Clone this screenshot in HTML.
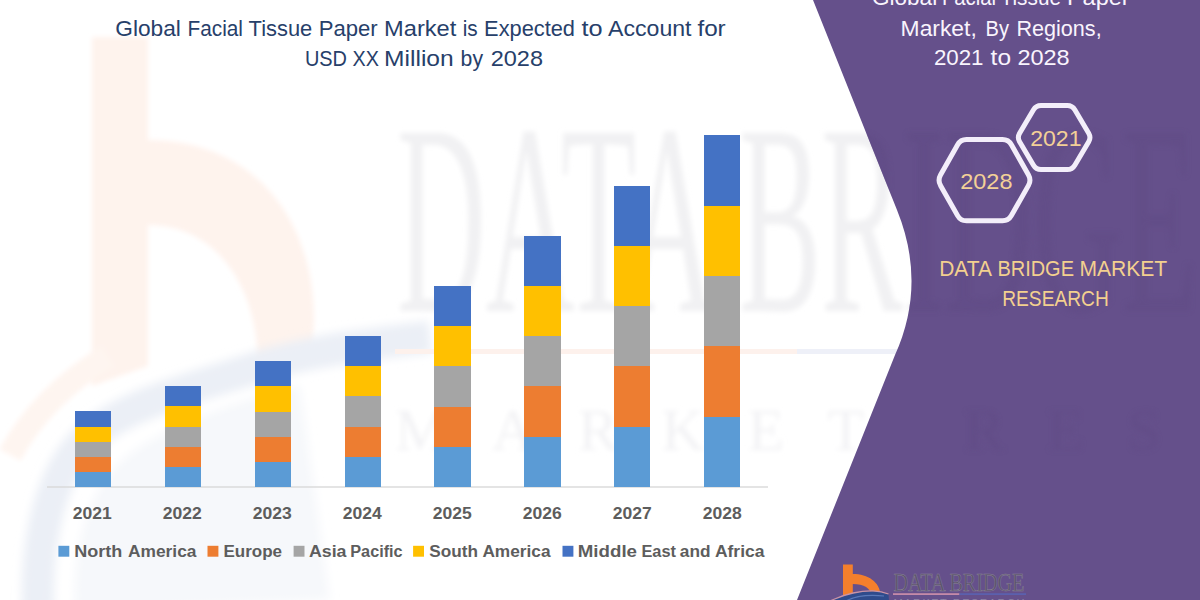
<!DOCTYPE html>
<html><head><meta charset="utf-8">
<style>
html,body{margin:0;padding:0;background:#fff;}
body{width:1200px;height:600px;overflow:hidden;font-family:"Liberation Sans",sans-serif;}
svg{display:block;font-family:"Liberation Sans",sans-serif;}
</style></head><body>
<svg width="1200" height="600" viewBox="0 0 1200 600">
<defs>
<filter id="b6" x="-20%" y="-20%" width="140%" height="140%"><feGaussianBlur stdDeviation="5"/></filter>
<filter id="b3" x="-20%" y="-20%" width="140%" height="140%"><feGaussianBlur stdDeviation="2.5"/></filter>
<filter id="b1" x="-20%" y="-20%" width="140%" height="140%"><feGaussianBlur stdDeviation="0.6"/></filter>
</defs>
<rect width="1200" height="600" fill="#ffffff"/>
<!-- watermark -->
<g id="wm">
<g filter="url(#b3)" fill="#fef3ed">
<path d="M92,37 H148 V140 C 250,140 314,215 314,320 L 312,352 L 258,366 C 258,285 215,225 148,225 V366 L92,386 Z"/>
<path d="M10,455 C 30,418 60,385 108,356" fill="none" stroke="#fef5f0" stroke-width="24"/>
</g>
<g filter="url(#b6)" fill="none">
<path d="M38,610 C 36,540 50,470 90,436 C 130,402 200,386 255,368 C 310,351 360,345 430,337" stroke="#ebeff6" stroke-width="32"/>
<path d="M75,610 C 72,540 90,480 135,450 C 180,420 240,400 300,385 L 330,600 Z" fill="#f6f8fb" stroke="none"/>
</g>
<g filter="url(#b3)" fill="#f1f1f3" font-family="Liberation Serif, serif" font-size="272">
<text x="397" y="311" textLength="800" lengthAdjust="spacingAndGlyphs">DATA BRIDGE</text>
</g>
<g filter="url(#b3)" fill="#f3f3f5" font-family="Liberation Serif, serif" font-size="60">
<text x="395" y="450" textLength="1185" lengthAdjust="spacing">MARKET RESEARCH</text>
</g>
<rect x="395" y="349" width="402" height="5" fill="#fdf1ec" filter="url(#b1)"/>
<rect x="797" y="349" width="120" height="5" fill="#eef0f8" filter="url(#b1)"/>
</g>
<!-- axis -->
<rect x="47" y="486.3" width="721" height="1.4" fill="#d9d9d9"/>
<!-- bars -->
<g shape-rendering="crispEdges">
<rect x="75.00" y="471.46" width="36.3" height="15.34" fill="#5b9bd5"/>
<rect x="75.00" y="456.42" width="36.3" height="15.34" fill="#ed7d31"/>
<rect x="75.00" y="441.38" width="36.3" height="15.34" fill="#a5a5a5"/>
<rect x="75.00" y="426.34" width="36.3" height="15.34" fill="#ffc000"/>
<rect x="75.00" y="411.30" width="36.3" height="15.34" fill="#4472c4"/>
<rect x="164.85" y="466.42" width="36.3" height="20.38" fill="#5b9bd5"/>
<rect x="164.85" y="446.34" width="36.3" height="20.38" fill="#ed7d31"/>
<rect x="164.85" y="426.26" width="36.3" height="20.38" fill="#a5a5a5"/>
<rect x="164.85" y="406.18" width="36.3" height="20.38" fill="#ffc000"/>
<rect x="164.85" y="386.10" width="36.3" height="20.38" fill="#4472c4"/>
<rect x="254.70" y="461.40" width="36.3" height="25.40" fill="#5b9bd5"/>
<rect x="254.70" y="436.30" width="36.3" height="25.40" fill="#ed7d31"/>
<rect x="254.70" y="411.20" width="36.3" height="25.40" fill="#a5a5a5"/>
<rect x="254.70" y="386.10" width="36.3" height="25.40" fill="#ffc000"/>
<rect x="254.70" y="361.00" width="36.3" height="25.40" fill="#4472c4"/>
<rect x="344.55" y="456.38" width="36.3" height="30.42" fill="#5b9bd5"/>
<rect x="344.55" y="426.26" width="36.3" height="30.42" fill="#ed7d31"/>
<rect x="344.55" y="396.14" width="36.3" height="30.42" fill="#a5a5a5"/>
<rect x="344.55" y="366.02" width="36.3" height="30.42" fill="#ffc000"/>
<rect x="344.55" y="335.90" width="36.3" height="30.42" fill="#4472c4"/>
<rect x="434.40" y="446.38" width="36.3" height="40.42" fill="#5b9bd5"/>
<rect x="434.40" y="406.26" width="36.3" height="40.42" fill="#ed7d31"/>
<rect x="434.40" y="366.14" width="36.3" height="40.42" fill="#a5a5a5"/>
<rect x="434.40" y="326.02" width="36.3" height="40.42" fill="#ffc000"/>
<rect x="434.40" y="285.90" width="36.3" height="40.42" fill="#4472c4"/>
<rect x="524.25" y="436.32" width="36.3" height="50.48" fill="#5b9bd5"/>
<rect x="524.25" y="386.14" width="36.3" height="50.48" fill="#ed7d31"/>
<rect x="524.25" y="335.96" width="36.3" height="50.48" fill="#a5a5a5"/>
<rect x="524.25" y="285.78" width="36.3" height="50.48" fill="#ffc000"/>
<rect x="524.25" y="235.60" width="36.3" height="50.48" fill="#4472c4"/>
<rect x="614.10" y="426.32" width="36.3" height="60.48" fill="#5b9bd5"/>
<rect x="614.10" y="366.14" width="36.3" height="60.48" fill="#ed7d31"/>
<rect x="614.10" y="305.96" width="36.3" height="60.48" fill="#a5a5a5"/>
<rect x="614.10" y="245.78" width="36.3" height="60.48" fill="#ffc000"/>
<rect x="614.10" y="185.60" width="36.3" height="60.48" fill="#4472c4"/>
<rect x="703.95" y="416.20" width="36.3" height="70.60" fill="#5b9bd5"/>
<rect x="703.95" y="345.90" width="36.3" height="70.60" fill="#ed7d31"/>
<rect x="703.95" y="275.60" width="36.3" height="70.60" fill="#a5a5a5"/>
<rect x="703.95" y="205.30" width="36.3" height="70.60" fill="#ffc000"/>
<rect x="703.95" y="135.00" width="36.3" height="70.60" fill="#4472c4"/>
</g>
<!-- title -->
<g fill="#27406a" font-size="21.3">
<text x="115.3" y="36.0" textLength="65.6" lengthAdjust="spacingAndGlyphs">Global</text>
<text x="187.5" y="36.0" textLength="55.5" lengthAdjust="spacingAndGlyphs">Facial</text>
<text x="248.6" y="36.0" textLength="63.7" lengthAdjust="spacingAndGlyphs">Tissue</text>
<text x="318.7" y="36.0" textLength="59.0" lengthAdjust="spacingAndGlyphs">Paper</text>
<text x="384.1" y="36.0" textLength="72.2" lengthAdjust="spacingAndGlyphs">Market</text>
<text x="462.7" y="36.0" textLength="15.0" lengthAdjust="spacingAndGlyphs">is</text>
<text x="484.1" y="36.0" textLength="90.9" lengthAdjust="spacingAndGlyphs">Expected</text>
<text x="581.4" y="36.0" textLength="21.1" lengthAdjust="spacingAndGlyphs">to</text>
<text x="608.1" y="36.0" textLength="83.4" lengthAdjust="spacingAndGlyphs">Account</text>
<text x="697.4" y="36.0" textLength="28.3" lengthAdjust="spacingAndGlyphs">for</text>
<text x="304.9" y="66.0" textLength="42.1" lengthAdjust="spacingAndGlyphs">USD</text>
<text x="352.6" y="66.0" textLength="26.4" lengthAdjust="spacingAndGlyphs">XX</text>
<text x="384.1" y="66.0" textLength="69.6" lengthAdjust="spacingAndGlyphs">Million</text>
<text x="460.6" y="66.0" textLength="22.4" lengthAdjust="spacingAndGlyphs">by</text>
<text x="490.7" y="66.0" textLength="52.3" lengthAdjust="spacingAndGlyphs">2028</text>
</g>
<!-- year labels -->
<g fill="#5d5d5d" font-size="16.8" font-weight="bold">
<text x="72.7" y="518.7" textLength="39" lengthAdjust="spacingAndGlyphs">2021</text>
<text x="162.7" y="518.7" textLength="39" lengthAdjust="spacingAndGlyphs">2022</text>
<text x="252.7" y="518.7" textLength="39" lengthAdjust="spacingAndGlyphs">2023</text>
<text x="342.7" y="518.7" textLength="39" lengthAdjust="spacingAndGlyphs">2024</text>
<text x="432.7" y="518.7" textLength="39" lengthAdjust="spacingAndGlyphs">2025</text>
<text x="522.7" y="518.7" textLength="39" lengthAdjust="spacingAndGlyphs">2026</text>
<text x="612.7" y="518.7" textLength="39" lengthAdjust="spacingAndGlyphs">2027</text>
<text x="702.7" y="518.7" textLength="39" lengthAdjust="spacingAndGlyphs">2028</text>
</g>
<!-- legend -->
<g fill="#5d5d5d" font-size="16.8" font-weight="bold">
<rect x="58.4" y="545.8" width="10.9" height="10.9" fill="#5b9bd5"/>
<text x="74.3" y="556.7" textLength="48.1" lengthAdjust="spacingAndGlyphs">North</text>
<text x="128.0" y="556.7" textLength="68.5" lengthAdjust="spacingAndGlyphs">America</text>
<rect x="207.5" y="545.8" width="10.9" height="10.9" fill="#ed7d31"/>
<text x="223.4" y="556.7" textLength="58.6" lengthAdjust="spacingAndGlyphs">Europe</text>
<rect x="293.6" y="545.8" width="10.9" height="10.9" fill="#a5a5a5"/>
<text x="308.9" y="556.7" textLength="37.6" lengthAdjust="spacingAndGlyphs">Asia</text>
<text x="350.3" y="556.7" textLength="52.3" lengthAdjust="spacingAndGlyphs">Pacific</text>
<rect x="413.1" y="545.8" width="10.9" height="10.9" fill="#ffc000"/>
<text x="429.3" y="556.7" textLength="48.7" lengthAdjust="spacingAndGlyphs">South</text>
<text x="482.4" y="556.7" textLength="68.2" lengthAdjust="spacingAndGlyphs">America</text>
<rect x="562.5" y="545.8" width="10.9" height="10.9" fill="#4472c4"/>
<text x="577.8" y="556.7" textLength="59.2" lengthAdjust="spacingAndGlyphs">Middle</text>
<text x="641.4" y="556.7" textLength="34.6" lengthAdjust="spacingAndGlyphs">East</text>
<text x="679.8" y="556.7" textLength="30.7" lengthAdjust="spacingAndGlyphs">and</text>
<text x="714.9" y="556.7" textLength="49.6" lengthAdjust="spacingAndGlyphs">Africa</text>
</g>
<!-- purple panel -->
<path d="M813,0 L897,210 Q927,284 895,355 L797,600 H1200 V0 Z" fill="#65508b"/>
<clipPath id="pc"><path d="M813,0 L897,210 Q927,284 895,355 L797,600 H1200 V0 Z"/></clipPath>
<g clip-path="url(#pc)" opacity="0.5">
<g filter="url(#b3)" fill="#604b85" font-family="Liberation Serif, serif" font-size="272">
<text x="397" y="311" textLength="800" lengthAdjust="spacingAndGlyphs">DATA BRIDGE</text>
</g>
<g filter="url(#b3)" fill="#604b85" font-family="Liberation Serif, serif" font-size="60">
<text x="395" y="450" textLength="1185" lengthAdjust="spacing">MARKET RESEARCH</text>
</g>
</g>
<g fill="#f9f4fd" font-size="21.4">
<text x="871.9" y="5.2" textLength="65.3" lengthAdjust="spacingAndGlyphs">Global</text>
<text x="941.9" y="5.2" textLength="54.1" lengthAdjust="spacingAndGlyphs">Facial</text>
<text x="1000.6" y="5.2" textLength="60.4" lengthAdjust="spacingAndGlyphs">Tissue</text>
<text x="1066.9" y="5.2" textLength="62.8" lengthAdjust="spacingAndGlyphs">Paper</text>
<text x="900.6" y="35.5" textLength="76.2" lengthAdjust="spacingAndGlyphs">Market,</text>
<text x="985.6" y="35.5" textLength="23.4" lengthAdjust="spacingAndGlyphs">By</text>
<text x="1016.4" y="35.5" textLength="85.3" lengthAdjust="spacingAndGlyphs">Regions,</text>
<text x="933.9" y="65.4" textLength="49.6" lengthAdjust="spacingAndGlyphs">2021</text>
<text x="990.6" y="65.4" textLength="20.4" lengthAdjust="spacingAndGlyphs">to</text>
<text x="1017.4" y="65.4" textLength="52.3" lengthAdjust="spacingAndGlyphs">2028</text>
</g>
<!-- hexagons -->
<g fill="none" stroke="#f3eefa" stroke-width="5" stroke-linejoin="round">
<path d="M940.5,185.4 Q937.6,180.2 940.5,175.0 L957.6,144.7 Q960.5,139.5 966.5,139.5 L1002.5,139.5 Q1008.5,139.5 1011.4,144.7 L1028.5,175.0 Q1031.4,180.2 1028.5,185.4 L1011.4,215.6 Q1008.5,220.8 1002.5,220.8 L966.5,220.8 Q960.5,220.8 957.6,215.6 Z"/>
<path d="M1019.6,141.8 Q1017.1,137.5 1019.6,133.2 L1033.5,109.8 Q1036.0,105.5 1041.0,105.5 L1067.3,105.5 Q1072.3,105.5 1074.8,109.8 L1088.7,133.2 Q1091.2,137.5 1088.7,141.8 L1074.8,165.2 Q1072.3,169.5 1067.3,169.5 L1041.0,169.5 Q1036.0,169.5 1033.5,165.2 Z"/>
</g>
<g fill="#f3d097" font-size="22.6">
<text x="960.2" y="188.6" textLength="52.3" lengthAdjust="spacingAndGlyphs">2028</text>
<text x="1030.2" y="145.5" textLength="51.3" lengthAdjust="spacingAndGlyphs">2021</text>
</g>
<g fill="#f3d08f" font-size="22">
<text x="939.2" y="275.8" textLength="52.8" lengthAdjust="spacingAndGlyphs">DATA</text>
<text x="997.4" y="275.8" textLength="76.6" lengthAdjust="spacingAndGlyphs">BRIDGE</text>
<text x="1079.4" y="275.8" textLength="87.8" lengthAdjust="spacingAndGlyphs">MARKET</text>
<text x="1002.2" y="305.5" textLength="106.6" lengthAdjust="spacingAndGlyphs">RESEARCH</text>
</g>
<!-- logo -->
<g>
<path d="M843,564.5 H852.8 V574 C 868,574 880,582 880.5,595 H871 C 871,588.5 864,584 852.8,584 V596 H843 Z" fill="#f47f2c"/>
<path d="M831,601 C 845,594 862,591 873,591.3 C 880,591.5 884,592.5 888.5,594.5 L889,601 Z" fill="#2f4b8c"/>
<path d="M831,600.5 C 845,593.6 862,590.6 873,590.9 C 880,591.1 884,592.1 888.5,594" fill="none" stroke="#c893a6" stroke-width="1.3"/>
<path d="M846,601 C 855,596 868,594.5 884,596" fill="none" stroke="#5a78b8" stroke-width="1.2"/>
<text x="893.4" y="590.5" font-family="Liberation Serif, serif" font-size="24.5" fill="#5b536b" stroke="#8a8398" stroke-width="0.5" textLength="131" lengthAdjust="spacingAndGlyphs">DATA BRIDGE</text>
<rect x="893" y="593.2" width="66.5" height="1.8" fill="#c48aa8"/>
<rect x="959.5" y="593.2" width="66.5" height="1.8" fill="#5b60ad"/>
<text x="893.4" y="606.5" font-size="11" fill="#8f86a8" textLength="131" lengthAdjust="spacing">MARKET RESEARCH</text>
</g>
</svg>
</body></html>
